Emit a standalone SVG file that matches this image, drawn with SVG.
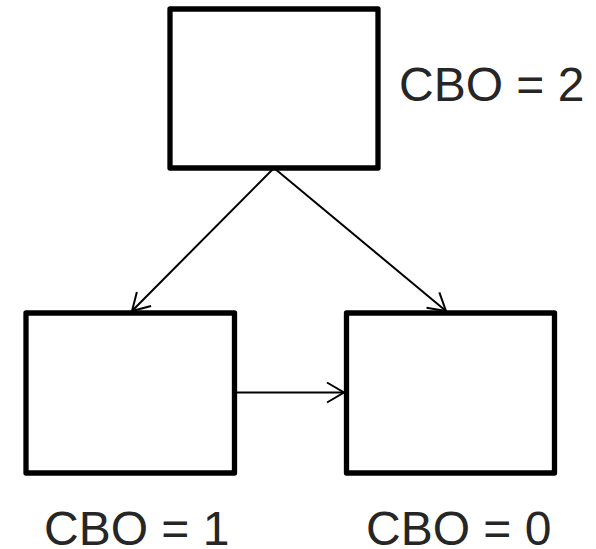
<svg xmlns="http://www.w3.org/2000/svg" width="596" height="549" viewBox="0 0 596 549">
<style>
.box{fill:#fff;stroke:#000;stroke-width:5.3;stroke-linejoin:round}
.lbl{font-family:"Liberation Sans",Arial,sans-serif;font-size:48px;fill:#262626}
.conn{stroke:#000;stroke-width:2;fill:none}
</style>
<defs>
<marker id="arr" markerUnits="userSpaceOnUse" markerWidth="40" markerHeight="40" refX="0" refY="0" orient="auto" overflow="visible">
<path d="M-17,-10 L0,0 L-17,10" fill="none" stroke="#000" stroke-width="2"/>
</marker>
</defs>
<rect width="596" height="549" fill="#fff"/>
<g id="connectors">
<line class="conn" x1="274" y1="168" x2="132" y2="311" marker-end="url(#arr)"/>
<line class="conn" x1="274" y1="168" x2="446" y2="311" marker-end="url(#arr)"/>
<line class="conn" x1="234.5" y1="392.5" x2="344" y2="392.5" marker-end="url(#arr)"/>
</g>
<g id="nodeA">
<rect class="box" x="170" y="9" width="208" height="159"/>
<text class="lbl" x="399" y="101">CBO = 2</text>
</g>
<g id="nodeB">
<rect class="box" x="26" y="313" width="208.5" height="160"/>
<text class="lbl" x="44" y="545">CBO = 1</text>
</g>
<g id="nodeC">
<rect class="box" x="346.5" y="313" width="208" height="160"/>
<text class="lbl" x="366" y="545">CBO = 0</text>
</g>
</svg>
